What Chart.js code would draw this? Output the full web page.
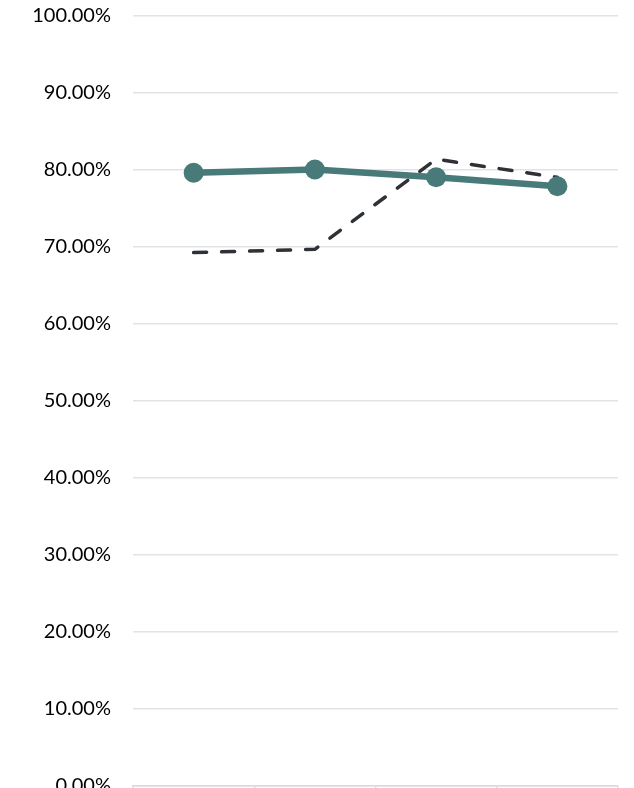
<!DOCTYPE html>
<html>
<head>
<meta charset="utf-8">
<script src="https://cdn.jsdelivr.net/npm/chart.js@4/dist/chart.umd.min.js"></script>
<style>
    html, body { margin: 0; padding: 0; background: #ffffff; overflow: hidden; }
    #wrap { width: 634px; height: 796px; position: relative; }
</style>
</head>
<body>
<div id="wrap"><canvas id="rateChart"></canvas></div>
<script>
// ------------------------------
// RATE TREND (ACTUAL vs TARGET)
// ------------------------------

const categories = ["1", "2", "3", "4"];
const actualRate = [0.7964, 0.8006, 0.7906, 0.7789];
const targetRate = [0.6927, 0.6970, 0.8140, 0.7905];
const yTicks = [0, 0.1, 0.2, 0.3, 0.4, 0.5, 0.6, 0.7, 0.8, 0.9, 1.0];

const ctx = document.getElementById("rateChart").getContext("2d");

const rateChart = new Chart(ctx, {
    type: "line",
    data: {
        labels: categories,
        datasets: [{
            label: "Actual",
            data: actualRate,
            borderColor: "#477a78",
            backgroundColor: "#477a78",
            borderWidth: 6.5,
            pointRadius: 10,
            pointHoverRadius: 10,
            pointBorderWidth: 0,
            fill: false,
            tension: 0
        }, {
            label: "Target",
            data: targetRate,
            borderColor: "#2e3236",
            borderWidth: 3.5,
            borderDash: [13, 15],
            borderCapStyle: "round",
            pointRadius: 0,
            fill: false,
            tension: 0
        }]
    },
    options: {
        responsive: true,
        maintainAspectRatio: false,
        animation: false,
        layout: { padding: { top: 16, right: 16, left: 0, bottom: 0 } },
        plugins: {
            legend: { display: false },
            tooltip: { enabled: false }
        },
        scales: {
            x: {
                offset: true,
                grid: {
                    offset: true,
                    drawOnChartArea: false,
                    drawTicks: true,
                    tickLength: 12,
                    color: "#d9d9d9",
                    lineWidth: 1.5
                },
                border: { display: true, color: "#d9d9d9", width: 1.5 },
                ticks: { display: false },
                afterFit: (scale) => {
                    scale.height = 4;
                    scale.paddingLeft = 0;
                    scale.paddingRight = 0;
                }
            },
            y: {
                min: 0,
                max: 1,
                afterBuildTicks: (scale) => {
                    scale.ticks = yTicks.map(v => ({ value: v }));
                },
                grid: {
                    color: "#e3e3e3",
                    lineWidth: 1.5,
                    drawTicks: false
                },
                border: { display: false },
                ticks: {
                    padding: 22,
                    color: "#000000",
                    font: { family: "Lato", size: 20 },
                    callback: (v) => (v * 100).toFixed(2) + "%"
                },
                afterFit: (scale) => {
                    scale.width = 133;
                    scale.paddingTop = 0;
                    scale.paddingBottom = 0;
                }
            }
        }
    }
});
</script>
</body>
</html>
